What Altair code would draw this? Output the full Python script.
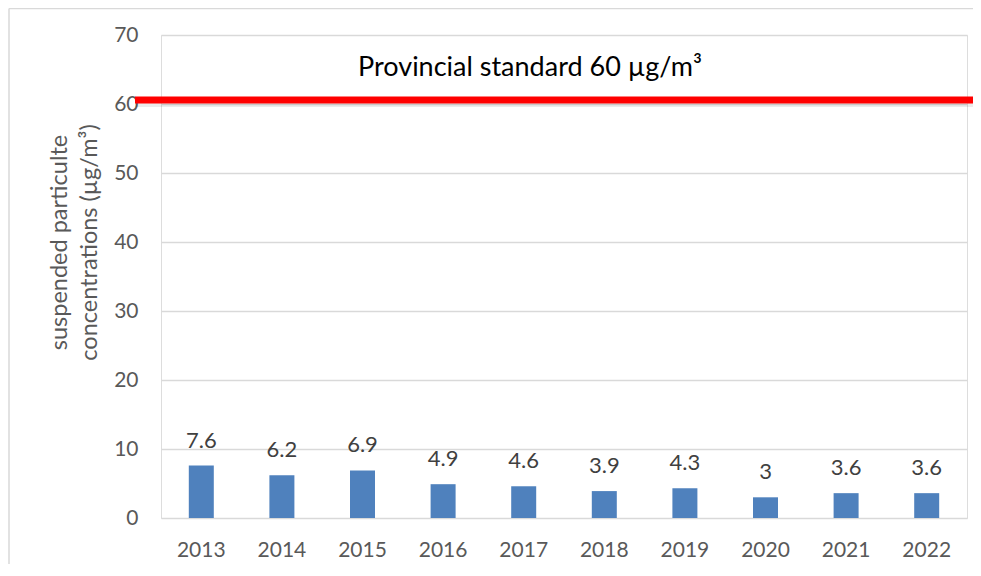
import altair as alt
import pandas as pd

years = ["2013", "2014", "2015", "2016", "2017", "2018", "2019", "2020", "2021", "2022"]
values = [7.6, 6.2, 6.9, 4.9, 4.6, 3.9, 4.3, 3.0, 3.6, 3.6]
labels = ["7.6", "6.2", "6.9", "4.9", "4.6", "3.9", "4.3", "3", "3.6", "3.6"]
standard = 60
standard_text = "Provincial standard 60 µg/m³"
y_title = ["suspended particulte", "concentrations (µg/m³)"]

df = pd.DataFrame({"year": years, "value": values, "label": labels})

W, H = 806, 483
FONT = "Lato"

x = alt.X("year:N", sort=years, title=None,
          scale=alt.Scale(paddingInner=0.69, paddingOuter=0.345),
          axis=alt.Axis(labelAngle=0, labelFontSize=21, labelColor="#595959",
                        labelFont=FONT, labelPadding=21, ticks=False, domain=False))
y = alt.Y("value:Q", title=y_title,
          scale=alt.Scale(domain=[0, 70], nice=False),
          axis=alt.Axis(values=list(range(0, 80, 10)), labelFontSize=21,
                        labelColor="#595959", labelFont=FONT, labelPadding=23,
                        ticks=False, domain=False, grid=True, gridColor="#d9d9d9",
                        gridWidth=1.5, titleFont=FONT, titleFontSize=23.5,
                        titleFontWeight="normal", titleColor="#595959",
                        titleLineHeight=30, titlePadding=12, titleY=207))

base = alt.Chart(df)

bars = base.mark_bar(color="#4f81bd", size=25).encode(x=x, y=y)
text = base.mark_text(baseline="bottom", dy=-13, fontSize=22, color="#404040",
                      font=FONT).encode(x=x, y="value:Q", text="label:N")

std_df = pd.DataFrame({"v": [standard], "t": [standard_text]})
shadow = alt.Chart(std_df).mark_rule(color="#000000", opacity=0.08, strokeWidth=6).encode(
    y=alt.Y("v:Q"), x=alt.value(-26), x2=alt.value(820))
red = alt.Chart(std_df).mark_rule(color="#ff0000", strokeWidth=7, yOffset=-4).encode(
    y=alt.Y("v:Q"), x=alt.value(-26), x2=alt.value(820))
std_txt = alt.Chart(std_df).mark_text(fontSize=27, color="#000000", font=FONT,
                                      baseline="middle").encode(
    text="t:N", x=alt.value(369), y=alt.value(33))

border_top = alt.Chart(std_df).mark_rule(color="#d9d9d9", strokeWidth=1.5).encode(
    x=alt.value(-152), x2=alt.value(820), y=alt.value(-26.5))
border_left = alt.Chart(std_df).mark_rule(color="#d9d9d9", strokeWidth=1.5).encode(
    x=alt.value(-152), y=alt.value(-26.5), y2=alt.value(600))

chart = alt.layer(border_top, border_left, bars, text, shadow, red, std_txt).properties(
    width=W, height=H,
    autosize=alt.AutoSizeParams(type="none"),
    padding={"left": 153, "top": 27, "right": 6, "bottom": 46},
).configure_view(stroke=None).configure(background="white")

chart.save("out.html", embed_options={"renderer": "svg", "actions": False})
